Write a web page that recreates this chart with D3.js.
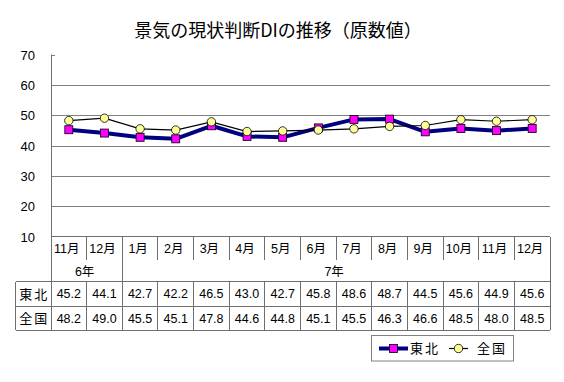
<!DOCTYPE html>
<html><head><meta charset="utf-8">
<script src="https://cdn.jsdelivr.net/npm/d3@7/dist/d3.min.js"></script>
<style>
html,body{margin:0;padding:0;background:#fff;}
text{font-family:"Liberation Sans","Noto Sans CJK JP",sans-serif;fill:#000;}
</style></head>
<body><svg id="c" width="564" height="382"></svg>
<script>
const title = "景気の現状判断DIの推移（原数値）";
const months = ["11月","12月","1月","2月","3月","4月","5月","6月","7月","8月","9月","10月","11月","12月"];
const years = [{label:"6年", from:0, to:1},{label:"7年", from:2, to:13}];
const seriesNames = ["東北","全国"];
const tohoku = [45.2,44.1,42.7,42.2,46.5,43.0,42.7,45.8,48.6,48.7,44.5,45.6,44.9,45.6];
const zenkoku = [48.2,49.0,45.5,45.1,47.8,44.6,44.8,45.1,45.5,46.3,46.6,48.5,48.0,48.5];
const yTicks = [10,20,30,40,50,60,70];

const svg = d3.select("#c");
const L = 51, R = 550, T = 54.5, B = 236.5;
const tableLeft = 15.5, monthRowB = 260, yearRowB = 281.7, row1B = 306.2, row2B = 330.3;
const gridC = "#808080", tableC = "#6f6f6f";

const x = d3.scaleBand().domain(d3.range(months.length)).range([L, R]).padding(0);
const y = d3.scaleLinear().domain([10, 70]).range([B, T]);
const cx = i => x(i) + x.bandwidth() / 2;

// title
svg.append("text").attr("x", 278).attr("y", 37).attr("text-anchor", "middle")
  .style("font-family", "'Noto Sans CJK JP',sans-serif").style("font-size", "18px").text(title);

// gridlines
svg.append("g").selectAll("line").data(yTicks.filter(t => t > 10 && t < 70)).join("line")
  .attr("x1", L).attr("x2", R).attr("y1", d => Math.round(y(d)) + 0.5).attr("y2", d => Math.round(y(d)) + 0.5)
  .attr("stroke", gridC).attr("stroke-width", 1);
// tick at 70
svg.append("line").attr("x1", L).attr("x2", L + 4).attr("y1", Math.round(y(70)) + 0.5).attr("y2", Math.round(y(70)) + 0.5)
  .attr("stroke", gridC);

// y axis labels
const yAxis = d3.axisLeft(y).tickValues(yTicks).tickSize(0).tickPadding(0);
const ga = svg.append("g").attr("transform", `translate(35,0)`).call(yAxis);
ga.select(".domain").remove();
ga.selectAll("text").style("font-family", "'Liberation Sans',sans-serif").style("font-size", "13px").attr("dy", "0.35em");

// left axis line
svg.append("line").attr("x1", L + 0.5).attr("x2", L + 0.5).attr("y1", T).attr("y2", row2B).attr("stroke", tableC);

// table
const tg = svg.append("g").attr("stroke", tableC).attr("stroke-width", 1).attr("shape-rendering", "crispEdges");
tg.append("line").attr("x1", L).attr("x2", R).attr("y1", B).attr("y2", B);
tg.append("line").attr("x1", R).attr("x2", R).attr("y1", B).attr("y2", row2B);
[yearRowB, row1B, row2B].forEach(yy => tg.append("line").attr("x1", tableLeft).attr("x2", R).attr("y1", yy).attr("y2", yy));
tg.append("line").attr("x1", tableLeft).attr("x2", tableLeft).attr("y1", yearRowB).attr("y2", row2B);
// column separators
d3.range(1, months.length).forEach(i => {
  const xx = x(i);
  const isYearSep = years.some(g => g.from === i);
  tg.append("line").attr("x1", xx).attr("x2", xx).attr("y1", B).attr("y2", isYearSep ? row2B : monthRowB);
  if (!isYearSep) tg.append("line").attr("x1", xx).attr("x2", xx).attr("y1", yearRowB).attr("y2", row2B);
});

// month labels
svg.append("g").selectAll("text").data(months).join("text")
  .attr("x", (d, i) => cx(i) - 2).attr("y", 253).attr("text-anchor", "middle")
  .style("font-size", "12.5px").text(d => d);
// year labels
svg.append("g").selectAll("text").data(years).join("text")
  .attr("x", d => (x(d.from) + x(d.to) + x.bandwidth()) / 2 - 2).attr("y", 276).attr("text-anchor", "middle")
  .style("font-size", "12.5px").text(d => d.label);
// row headers
const rowsY = [(yearRowB + row1B) / 2, (row1B + row2B) / 2];
svg.append("g").selectAll("text").data(seriesNames).join("text")
  .attr("x", (tableLeft + L) / 2 + 1).attr("y", (d, i) => rowsY[i]).attr("dy", "0.36em").attr("text-anchor", "middle")
  .style("font-size", "13px").style("letter-spacing", "2px").text(d => d);
// values
[tohoku, zenkoku].forEach((arr, r) => {
  svg.append("g").selectAll("text").data(arr).join("text")
    .attr("x", (d, i) => cx(i)).attr("y", rowsY[r]).attr("dy", "0.36em").attr("text-anchor", "middle")
    .style("font-size", "12.5px").text(d => d.toFixed(1));
});

// lines
const line = arr => d3.line().x((d, i) => cx(i)).y(d => y(d))(arr);
svg.append("path").attr("d", line(tohoku)).attr("fill", "none").attr("stroke", "#000080").attr("stroke-width", 4).attr("stroke-linejoin", "round");
svg.append("g").selectAll("rect").data(tohoku).join("rect")
  .attr("x", (d, i) => cx(i) - 4).attr("y", d => y(d) - 4).attr("width", 8).attr("height", 8)
  .attr("fill", "#ff00ff").attr("stroke", "#000").attr("stroke-width", 0.8);
svg.append("path").attr("d", line(zenkoku)).attr("fill", "none").attr("stroke", "#000").attr("stroke-width", 1.2);
svg.append("g").selectAll("circle").data(zenkoku).join("circle")
  .attr("cx", (d, i) => cx(i)).attr("cy", d => y(d)).attr("r", 4.2)
  .attr("fill", "#ffff99").attr("stroke", "#000").attr("stroke-width", 0.8);

// legend
const lg = svg.append("g");
lg.append("rect").attr("x", 371.5).attr("y", 335.5).attr("width", 142).attr("height", 25.5)
  .attr("fill", "#fff").attr("stroke", "#808080");
const ly = 348.5;
lg.append("line").attr("x1", 379).attr("x2", 408).attr("y1", ly).attr("y2", ly).attr("stroke", "#000080").attr("stroke-width", 4);
lg.append("rect").attr("x", 389.5).attr("y", ly - 4).attr("width", 8).attr("height", 8).attr("fill", "#ff00ff").attr("stroke", "#000").attr("stroke-width", 0.8);
lg.append("text").attr("x", 410).attr("y", ly).attr("dy", "0.36em").style("font-size", "13px").style("letter-spacing", "2px").text(seriesNames[0]);
lg.append("line").attr("x1", 449).attr("x2", 468).attr("y1", ly).attr("y2", ly).attr("stroke", "#000").attr("stroke-width", 1.2);
lg.append("circle").attr("cx", 458.5).attr("cy", ly).attr("r", 4.2).attr("fill", "#ffff99").attr("stroke", "#000").attr("stroke-width", 0.8);
lg.append("text").attr("x", 477).attr("y", ly).attr("dy", "0.36em").style("font-size", "13px").style("letter-spacing", "2px").text(seriesNames[1]);
</script></body></html>
